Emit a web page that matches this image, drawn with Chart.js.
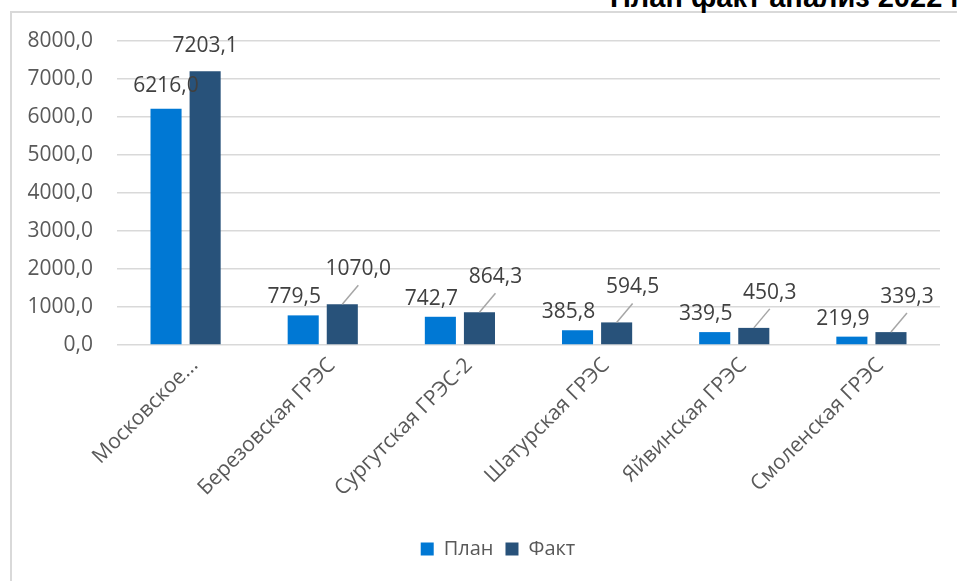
<!DOCTYPE html>
<html>
<head>
<meta charset="utf-8">
<script src="https://cdn.jsdelivr.net/npm/chart.js@4.4.0/dist/chart.umd.min.js"></script>
<style>
  html, body { margin: 0; padding: 0; background: #fff; overflow: hidden; }
  #wrap { position: relative; width: 957px; height: 581px; }
  #frame {
    position: absolute; left: 10px; top: 11px; width: 960px; height: 600px;
    border-left: 2px solid #d9d9d9; border-top: 2px solid #d9d9d9;
  }
  #title {
    position: absolute; left: 610px; top: -17px; white-space: nowrap;
    font: bold 29px "Liberation Sans", Arial, sans-serif; line-height: 29px; color: #000;
  }
  canvas { position: absolute; left: 0; top: 0; }
</style>
</head>
<body>
<div id="wrap">
  <div id="frame"></div>
  <div id="title">План факт анализ 2022 г.</div>
  <canvas id="chart" width="957" height="581"></canvas>
</div>
<script>
const categories = [
  "Московское...",
  "Березовская ГРЭС",
  "Сургутская ГРЭС-2",
  "Шатурская ГРЭС",
  "Яйвинская ГРЭС",
  "Смоленская ГРЭС",
];
const plan = [6216.0, 779.5, 742.7, 385.8, 339.5, 219.9];
const fact = [7203.1, 1070.0, 864.3, 594.5, 450.3, 339.3];

const fontFamily = "'Open Sans', 'Noto Sans', sans-serif";

function fmt(v) {
  return v.toFixed(1).replace(".", ",");
}

// value labels, fact labels for small bars get a leader line
const barLabels = {
  id: "barLabels",
  afterDatasetsDraw(chart) {
    let ctx = chart.ctx;
    let zeroY = chart.scales.y.getPixelForValue(0);
    ctx.save();
    ctx.font = "21px " + fontFamily;
    ctx.fillStyle = "#404040";
    ctx.textAlign = "center";
    ctx.textBaseline = "alphabetic";

    chart.getDatasetMeta(0).data.forEach((bar, i) => {
      if (plan[i] > 2000) {
        ctx.fillText(fmt(plan[i]), bar.x, bar.y - 17);
      } else {
        ctx.fillText(fmt(plan[i]), bar.x - 9, Math.min(bar.y - 12, zeroY - 14));
      }
    });

    chart.getDatasetMeta(1).data.forEach((bar, i) => {
      if (fact[i] > 2000) {
        ctx.fillText(fmt(fact[i]), bar.x, bar.y - 19);
      } else {
        ctx.strokeStyle = "#a6a6a6";
        ctx.lineWidth = 1.5;
        ctx.beginPath();
        ctx.moveTo(bar.x, bar.y);
        ctx.lineTo(bar.x + 16, bar.y - 19);
        ctx.stroke();
        ctx.fillText(fmt(fact[i]), bar.x + 16, bar.y - 29);
      }
    });
    ctx.restore();
  },
};

// the legend sits centred in the whole (wider) frame
const legendShift = {
  id: "legendShift",
  afterLayout(chart) {
    chart.legend.left += 28;
    chart.legend.right += 28;
  },
};

let chartCtx = document.getElementById("chart").getContext("2d");

let chart = new Chart(chartCtx, {
  type: "bar",
  data: {
    labels: categories,
    datasets: [
      {
        label: "План",
        data: plan,
        backgroundColor: "#0078d4",
        categoryPercentage: 0.57,
        barPercentage: 0.795,
      },
      {
        label: "Факт",
        data: fact,
        backgroundColor: "#28527a",
        categoryPercentage: 0.57,
        barPercentage: 0.795,
      },
    ],
  },
  options: {
    responsive: false,
    animation: false,
    layout: {
      padding: { top: 41, right: 17, bottom: 12, left: 0 },
    },
    scales: {
      y: {
        min: 0,
        max: 8000,
        afterFit: (scale) => {
          scale.width = 117;
        },
        ticks: {
          stepSize: 1000,
          padding: 24,
          color: "#595959",
          font: { family: fontFamily, size: 21 },
          callback: (v) => fmt(v),
        },
        grid: { color: "#d9d9d9", lineWidth: 1.5, drawTicks: false },
        border: { display: false },
      },
      x: {
        afterFit: (scale) => {
          scale.height = 182;
        },
        ticks: {
          autoSkip: false,
          minRotation: 45,
          maxRotation: 45,
          labelOffset: 9,
          padding: 0,
          color: "#595959",
          font: { family: fontFamily, size: 21 },
        },
        grid: { display: false },
        border: { display: false },
      },
    },
    plugins: {
      legend: {
        position: "bottom",
        labels: {
          boxWidth: 13,
          boxHeight: 13,
          padding: 12,
          color: "#595959",
          font: { family: fontFamily, size: 20 },
        },
      },
      tooltip: { enabled: false },
    },
  },
  plugins: [barLabels, legendShift],
});
</script>
</body>
</html>
